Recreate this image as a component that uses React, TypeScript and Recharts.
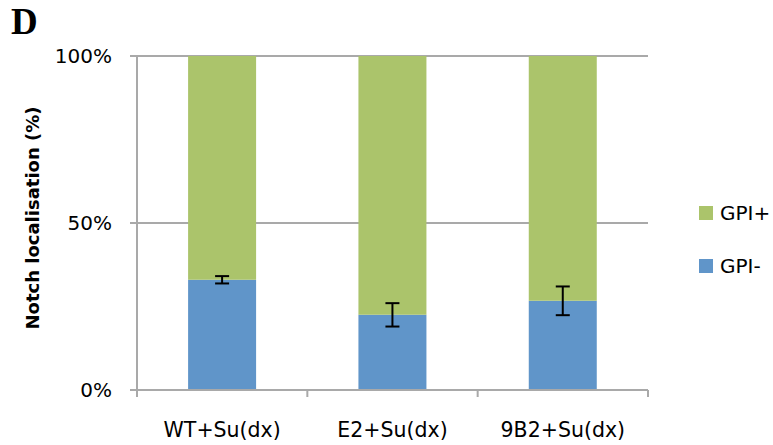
import { BarChart, Bar, XAxis, YAxis, CartesianGrid, ErrorBar, Legend } from "recharts";

const categories = ["WT+Su(dx)", "E2+Su(dx)", "9B2+Su(dx)"];
const gpiMinus = [33, 22.5, 26.7];
const gpiMinusErr = [1.1, 3.5, 4.3];
const yTicks = [0, 50, 100];
const legendOrder = ["GPI+", "GPI-"];

const data = categories.map((name, i) => ({
  name,
  minus: gpiMinus[i],
  plus: 100 - gpiMinus[i],
  err: gpiMinusErr[i],
}));

const W = 773;
const H = 445;
const LEFT = 137;
const RIGHT = 125;
const TOP = 56;
const BOTTOM = 55;
const PLOT_BOTTOM = H - BOTTOM;
const BAND = (W - LEFT - RIGHT) / categories.length;

const FONT = "'DejaVu Sans', sans-serif";
const AXIS = "#A9A9A9";
const GREEN = "#ABC46B";
const BLUE = "#6095C9";

const XTick = (props: any) => {
  const { x, payload, index } = props;
  const half = BAND / 2;
  return (
    <g>
      <line x1={x - half} x2={x - half} y1={PLOT_BOTTOM} y2={PLOT_BOTTOM + 7} stroke={AXIS} strokeWidth={2} />
      {index === categories.length - 1 && (
        <line x1={x + half} x2={x + half} y1={PLOT_BOTTOM} y2={PLOT_BOTTOM + 7} stroke={AXIS} strokeWidth={2} />
      )}
      <text x={x} y={PLOT_BOTTOM + 47} textAnchor="middle" fontSize={20.5} fontFamily={FONT} fill="#000">
        {payload.value}
      </text>
    </g>
  );
};

const LegendBox = (props: any) => {
  const items = legendOrder
    .map((n) => (props.payload ?? []).find((p: any) => p.value === n))
    .filter(Boolean);
  return (
    <div style={{ fontFamily: FONT, fontSize: 20, textAlign: "left" }}>
      {items.map((it: any) => (
        <div key={it.value} style={{ display: "flex", alignItems: "center", height: 22, marginBottom: 31 }}>
          <span style={{ width: 14, height: 14, background: it.color, display: "inline-block", marginRight: 7 }} />
          <span>{it.value}</span>
        </div>
      ))}
    </div>
  );
};

export default function App() {
  return (
    <div style={{ position: "absolute", left: 0, top: 0, width: W, height: H, background: "#fff" }}>
      <div
        style={{
          position: "absolute",
          left: 11,
          top: 2,
          fontFamily: "'Liberation Serif', serif",
          fontWeight: "bold",
          fontSize: 37,
          lineHeight: "40px",
        }}
      >
        D
      </div>
      <BarChart
        width={W}
        height={H}
        data={data}
        margin={{ top: TOP, right: RIGHT, left: 0, bottom: 0 }}
        barCategoryGap="30%"
      >
        <CartesianGrid vertical={false} stroke={AXIS} strokeWidth={2} />
        <XAxis
          dataKey="name"
          height={BOTTOM}
          axisLine={{ stroke: AXIS, strokeWidth: 2 }}
          tickLine={false}
          tick={<XTick />}
          interval={0}
        />
        <YAxis
          width={LEFT}
          domain={[0, 100]}
          ticks={yTicks}
          tickFormatter={(v: number) => `${v}%`}
          axisLine={{ stroke: AXIS, strokeWidth: 2 }}
          tickLine={{ stroke: AXIS, strokeWidth: 2 }}
          tickSize={7}
          tickMargin={18}
          tick={{ fill: "#000", fontSize: 20, fontFamily: FONT }}
          label={{
            content: () => (
              <text
                x={32}
                y={218}
                transform="rotate(-90, 32, 218)"
                textAnchor="middle"
                dominantBaseline="central"
                fontFamily={FONT}
                fontWeight="bold"
                fontSize={18}
                fill="#000"
              >
                Notch localisation (%)
              </text>
            ),
          }}
        />
        <Legend
          layout="horizontal"
          align="center"
          verticalAlign="middle"
          wrapperStyle={{ left: 699, top: 202, width: 80 }}
          content={<LegendBox />}
        />
        <Bar dataKey="minus" name="GPI-" stackId="a" fill={BLUE} isAnimationActive={false}>
          <ErrorBar dataKey="err" direction="y" width={7} stroke="#000" strokeWidth={2} />
        </Bar>
        <Bar dataKey="plus" name="GPI+" stackId="a" fill={GREEN} isAnimationActive={false} />
      </BarChart>
    </div>
  );
}
